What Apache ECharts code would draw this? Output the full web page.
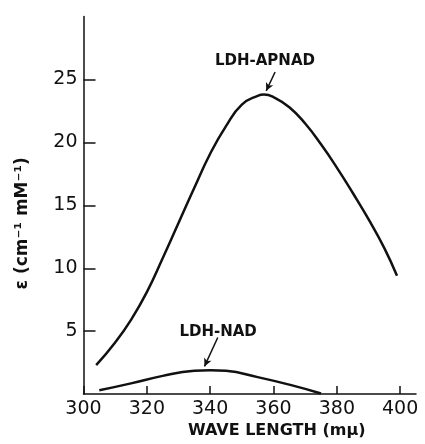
<!DOCTYPE html>
<html>
<head>
<meta charset="utf-8">
<script src="https://cdn.jsdelivr.net/npm/echarts@6/dist/echarts.min.js"></script>
<style>
  html, body { margin: 0; padding: 0; background: #fff; }
  #chart { width: 425px; height: 444px; }
</style>
</head>
<body>
<div id="chart"></div>
<script>
// wave length (mμ) and extinction coefficient
const apnadWave = [304, 310, 315, 320, 325, 330, 335, 340, 345, 350, 355, 357, 360, 365, 370, 375, 380, 385, 390, 395, 399]
const apnadE = [2.3, 4.1, 5.9, 8.1, 10.8, 13.6, 16.4, 19.1, 21.3, 23.0, 23.7, 23.8, 23.6, 22.8, 21.5, 19.85, 18.0, 16.0, 13.9, 11.6, 9.4]

const nadWave = [305, 315, 325, 335, 340, 345, 355, 365, 375]
const nadE = [0.3, 0.85, 1.45, 1.85, 1.9, 1.85, 1.35, 0.75, 0.05]

const xTicks = [300, 320, 340, 360, 380, 400]
const yTicks = [5, 10, 15, 20, 25]

const ink = '#111'
const font = 'DejaVu Sans'

const chart = echarts.init(document.getElementById('chart'))

const zip = (xs, ys) => xs.map((x, i) => [x, ys[i]])

const arrowLine = (from, to) => ({
  silent: true,
  symbol: ['none', 'arrow'],
  symbolSize: [6, 8],
  lineStyle: { color: ink, width: 1.5, type: 'solid' },
  label: { show: false },
  data: [[{ coord: from }, { coord: to }]],
})

const textMark = (text, coord) => ({
  silent: true,
  symbol: 'circle',
  symbolSize: 1,
  itemStyle: { color: 'rgba(0,0,0,0)' },
  label: {
    show: true,
    position: 'inside',
    formatter: text,
    color: ink,
    fontFamily: font,
    fontSize: 15,
    fontWeight: 'bold',
  },
  data: [{ coord }],
})

chart.setOption({
  animation: false,
  grid: { left: 83.5, right: 9, top: 16.6, bottom: 47 },
  xAxis: {
    type: 'value',
    min: 300,
    max: 405,
    name: 'WAVE LENGTH (mμ)',
    nameLocation: 'middle',
    nameGap: 28,
    nameTextStyle: { color: ink, fontFamily: font, fontSize: 16, fontWeight: 'bold', padding: [0, 0, 0, 54] },
    axisLine: { lineStyle: { color: ink, width: 1.5 } },
    axisTick: { inside: true, length: 8, customValues: xTicks, lineStyle: { color: ink, width: 1.5 } },
    axisLabel: { customValues: xTicks, color: ink, fontFamily: font, fontSize: 19, margin: 5 },
    splitLine: { show: false },
  },
  yAxis: {
    type: 'value',
    min: 0,
    max: 30,
    name: 'ε (cm⁻¹ mM⁻¹)',
    nameLocation: 'middle',
    nameRotate: 90,
    nameGap: 52,
    nameTextStyle: { color: ink, fontFamily: font, fontSize: 17, fontWeight: 'bold', padding: [0, 36, 0, 0] },
    axisLine: { show: true, lineStyle: { color: ink, width: 1.5 } },
    axisTick: { show: true, inside: true, length: 12, customValues: yTicks, lineStyle: { color: ink, width: 1.5 } },
    axisLabel: { customValues: yTicks, color: ink, fontFamily: font, fontSize: 19, margin: 6 },
    splitLine: { show: false },
  },
  series: [
    {
      name: 'LDH-APNAD',
      type: 'line',
      smooth: 0.5,
      symbol: 'none',
      lineStyle: { color: ink, width: 2.5 },
      data: zip(apnadWave, apnadE),
      markLine: arrowLine([360.5, 25.6], [357.7, 24.1]),
      markPoint: textMark('LDH-APNAD', [357.3, 26.5]),
    },
    {
      name: 'LDH-NAD',
      type: 'line',
      smooth: 0.5,
      symbol: 'none',
      lineStyle: { color: ink, width: 2.5 },
      data: zip(nadWave, nadE),
      markLine: arrowLine([342.4, 4.5], [338.2, 2.2]),
      markPoint: textMark('LDH-NAD', [342.5, 4.9]),
    },
  ],
})
</script>
</body>
</html>
